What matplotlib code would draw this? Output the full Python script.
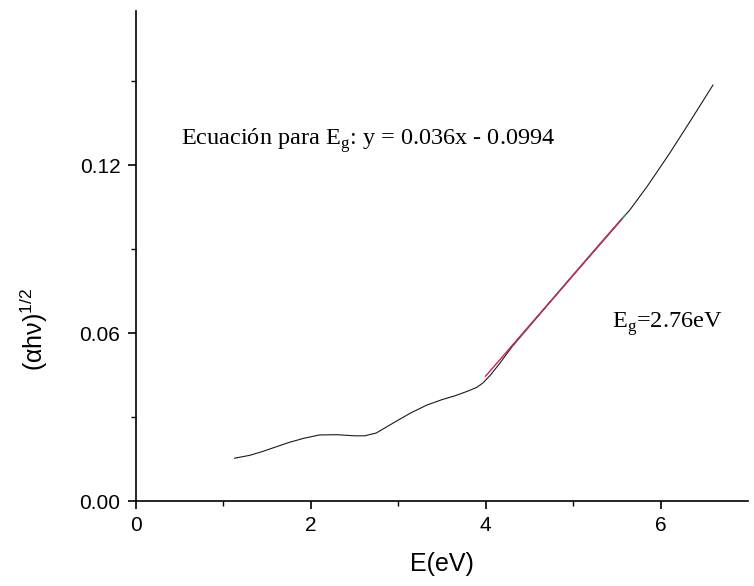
import matplotlib.pyplot as plt
import numpy as np

# Curve
energy = [1.13, 1.3, 1.45, 1.6, 1.75, 1.92, 2.1, 2.3, 2.5, 2.62, 2.75, 2.94,
          3.14, 3.33, 3.5, 3.65, 3.8, 3.9, 3.97, 4.05, 4.15, 4.3, 4.6, 5.0,
          5.3, 5.5, 5.65, 5.85, 6.1, 6.35, 6.6]
ahv = [0.0153, 0.0163, 0.0177, 0.0193, 0.0209, 0.0224, 0.0236, 0.0237, 0.0233,
       0.0233, 0.0243, 0.0278, 0.0314, 0.0343, 0.0362, 0.0376, 0.0393, 0.0406,
       0.0422, 0.0448, 0.0487, 0.0550, 0.0660, 0.0806, 0.0914, 0.0986, 0.1040,
       0.1125, 0.1240, 0.1362, 0.1486]

# Selected data range (teal) and linear fit (red)
sel_x = [4.3, 4.6, 5.0, 5.3, 5.6]
sel_y = [0.0553, 0.0662, 0.0808, 0.0917, 0.1024]
fit_slope = 0.036
fit_icept = -0.0994
fit_range = [4.0, 5.56]

xticks = [0, 2, 4, 6]
yticks = [0.00, 0.06, 0.12]

plt.rcParams["font.family"] = ["Liberation Sans", "DejaVu Sans"]
plt.rcParams["mathtext.fontset"] = "custom"
plt.rcParams["mathtext.rm"] = "Liberation Sans"

fig = plt.figure(figsize=(7.54, 5.86), dpi=100)
ax = fig.add_axes([0.18, 0.145, 0.812, 0.836])

ax.plot(energy, ahv, color="#1a1a1a", lw=0.8)
ax.plot(sel_x, sel_y, color="#2aa592", lw=1.0)
fx = np.array(fit_range)
ax.plot(fx, fit_slope * fx + fit_icept, color="#d8204c", lw=1.0)

ax.set_xlim(0, 7)
ax.set_ylim(0, 0.175)
ax.set_xticks(xticks)
ax.set_yticks(yticks)
ax.set_yticklabels(["%.2f" % v for v in yticks])
ax.set_xticks([1, 3, 5], minor=True)
ax.set_yticks([0.03, 0.09, 0.15], minor=True)
ax.tick_params(which="major", direction="out", length=6, width=1.2,
               labelsize=15, pad=5)
ax.tick_params(which="minor", direction="out", length=3.5, width=1.0)

for s in ["top", "right"]:
    ax.spines[s].set_visible(False)
for s in ["left", "bottom"]:
    ax.spines[s].set_linewidth(1.2)

ax.set_xlabel("E(eV)", fontsize=18, labelpad=12)
ax.set_ylabel("(αhν)$^{1/2}$", fontsize=18)
ax.yaxis.set_label_coords(-0.14, 0.35)

serif = ["Liberation Serif", "DejaVu Serif"]
ax.text(0.52, 0.1271, "Ecuación para E$_\\mathregular{g}$: y = 0.036x - 0.0994",
        fontsize=17.5, family=serif, va="baseline")
ax.text(5.45, 0.0618, "E$_\\mathregular{g}$=2.76eV", fontsize=17.5, family=serif,
        va="baseline")

plt.savefig("out.png", dpi=100)
